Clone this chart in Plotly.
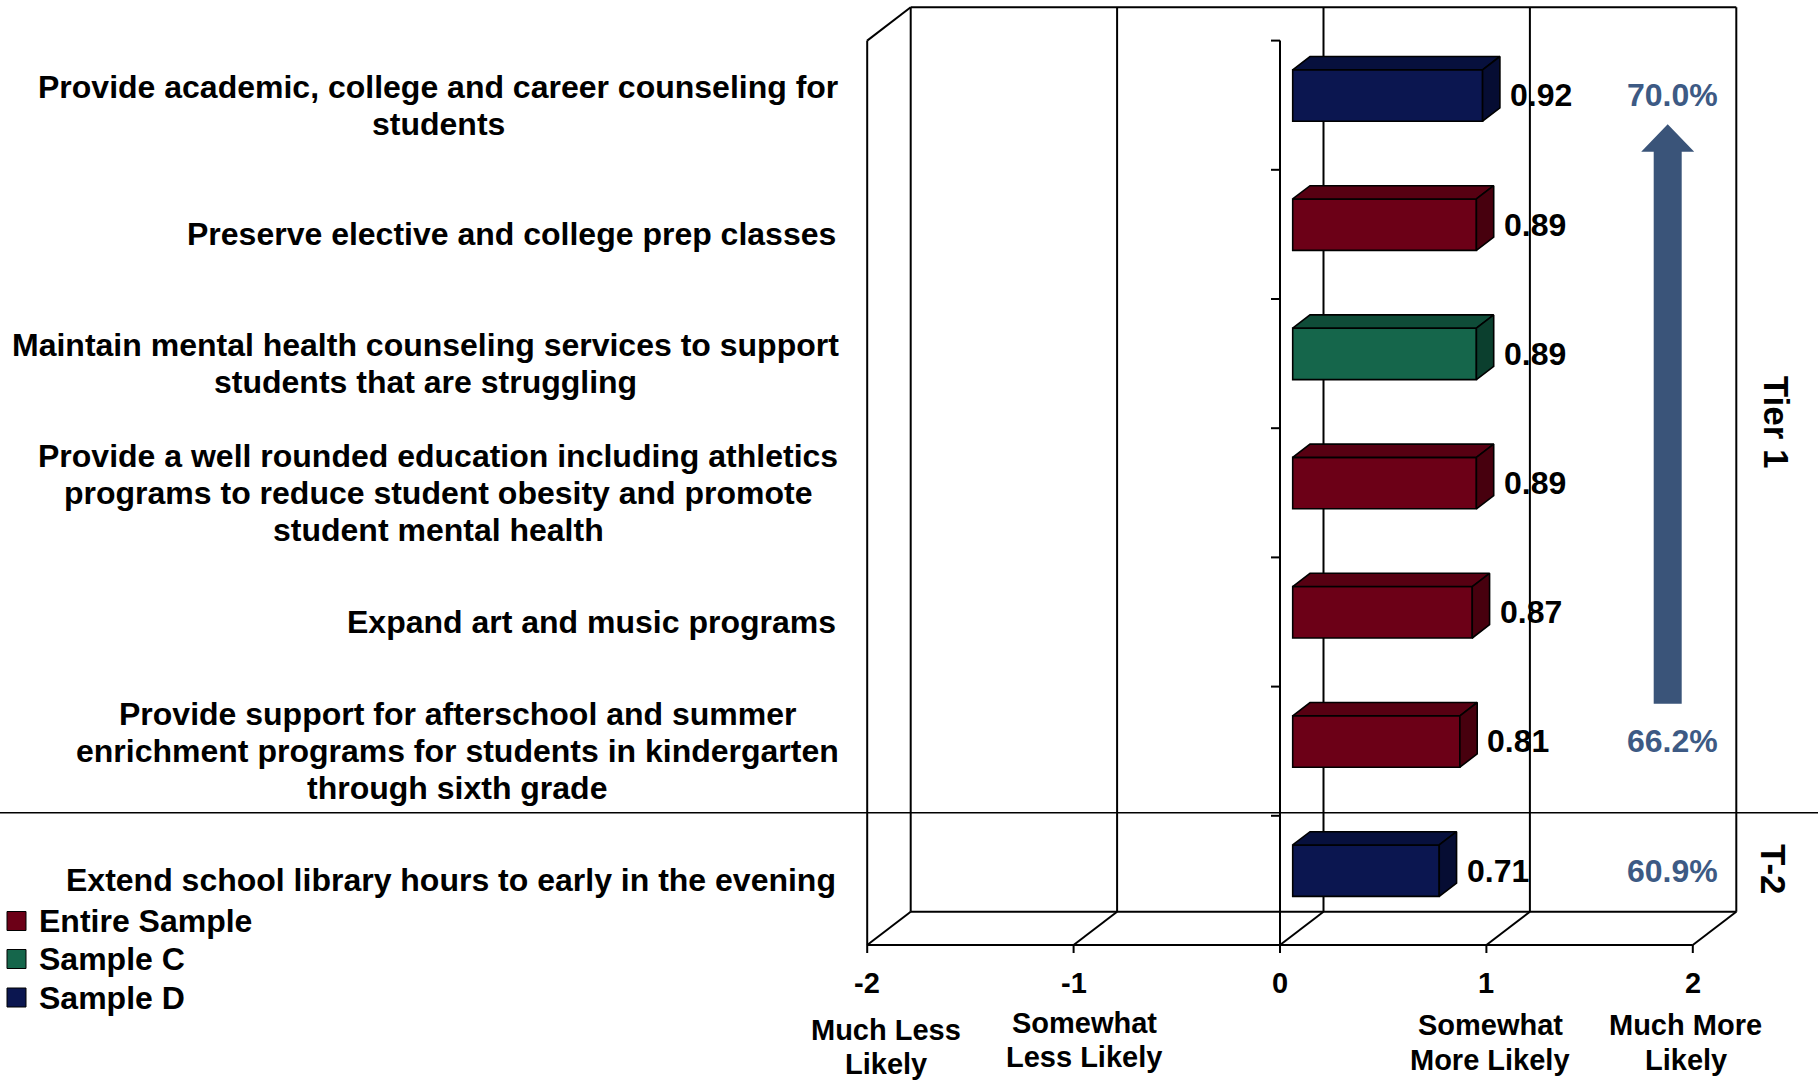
import plotly.graph_objects as go

# ---------------- data ----------------
categories = [
    ["Provide academic, college and career counseling for", "students"],
    ["Preserve elective and college prep classes"],
    ["Maintain mental health counseling services to support", "students that are struggling"],
    ["Provide a well rounded education including athletics",
     "programs to reduce student obesity and promote", "student mental health"],
    ["Expand art and music programs"],
    ["Provide support for afterschool and summer",
     "enrichment programs for students in kindergarten", "through sixth grade"],
    ["Extend school library hours to early in the evening"],
]
values = [0.92, 0.89, 0.89, 0.89, 0.87, 0.81, 0.71]
samples = ["Sample D", "Entire Sample", "Sample C", "Entire Sample",
           "Entire Sample", "Entire Sample", "Sample D"]
pct_rows = [0, 5, 6]
pct_labels = ["70.0%", "66.2%", "60.9%"]
x_ticks = [-2, -1, 0, 1, 2]
x_tick_text = ["-2", "-1", "0", "1", "2"]
scale_labels = {-2: ["Much Less", "Likely"], -1: ["Somewhat", "Less Likely"],
                1: ["Somewhat", "More Likely"], 2: ["Much More", "Likely"]}
legend_names = ["Entire Sample", "Sample C", "Sample D"]
tier_labels = ["Tier 1", "T-2"]

# ---------------- styles ----------------
COLORS = {
    "Entire Sample": {"front": "#6C0017", "top": "#570012", "side": "#47000E"},
    "Sample C": {"front": "#15664B", "top": "#0F4C38", "side": "#0B3F2E"},
    "Sample D": {"front": "#0B1650", "top": "#07103D", "side": "#060D33"},
}
ARROW_C = "#3A5479"
PCT_C = "#3D5A84"
FONT = "Liberation Sans, Arial, sans-serif"

W, H = 1818, 1080
X0PX, UX = 1280.0, 206.4     # pixel of x=0 (front), pixels per unit
FLOORPX, UY = 945.0, 129.2   # pixel of floor front, pixels per category
DX = 43.5 / UX               # depth offset (x units)
DY = 33.3 / UY               # depth offset (y units)
D0, D1 = 0.292, 0.69         # bar front/back depth fractions
BAR_H = 0.398

def px2x(px):
    return (px - X0PX) / UX

def px2y(py):
    return (FLOORPX - py) / UY

n = len(values)
yc = [n - 0.5 - i for i in range(n)]   # category centres, top row first

fig = go.Figure()

# front faces of bars
fig.add_trace(go.Bar(
    orientation="h",
    x=values,
    y=[c + D0 * DY for c in yc],
    base=[D0 * DX] * n,
    width=BAR_H,
    marker=dict(color=[COLORS[s]["front"] for s in samples],
                line=dict(color="black", width=1.6)),
    hoverinfo="skip",
))

# top and side faces
ddx = (D1 - D0) * DX
ddy = (D1 - D0) * DY
for v, c, s in zip(values, yc, samples):
    xl = D0 * DX
    xr = v + D0 * DX
    yt = c + D0 * DY + BAR_H / 2
    yb = c + D0 * DY - BAR_H / 2
    fig.add_trace(go.Scatter(
        x=[xl, xl + ddx, xr + ddx, xr, xl], y=[yt, yt + ddy, yt + ddy, yt, yt],
        fill="toself", fillcolor=COLORS[s]["top"], mode="lines",
        line=dict(color="black", width=1.6), hoverinfo="skip"))
    fig.add_trace(go.Scatter(
        x=[xr, xr + ddx, xr + ddx, xr, xr], y=[yt, yt + ddy, yb + ddy, yb, yt],
        fill="toself", fillcolor=COLORS[s]["side"], mode="lines",
        line=dict(color="black", width=1.6), hoverinfo="skip"))

shapes = []
LW = 2
def line(x0, y0, x1, y1, layer="below", xref="x", w=LW):
    shapes.append(dict(type="line", xref=xref, yref="y", x0=x0, y0=y0, x1=x1, y1=y1,
                       line=dict(color="black", width=w), layer=layer))

xmin, xmax = x_ticks[0], x_ticks[-1]
# back wall
for t in x_ticks:
    line(t + DX, DY, t + DX, n + DY)
line(xmin + DX, n + DY, xmax + DX, n + DY)
# left wall
line(xmin, 0, xmin, n)
line(xmin, n, xmin + DX, n + DY)
# floor
line(xmin, 0, xmax, 0)
line(xmin + DX, DY, xmax + DX, DY)
for t in x_ticks:
    line(t, 0, t + DX, DY)
    line(t, 0, t, px2y(FLOORPX + 8))
# value axis at 0 (front)
line(0, 0, 0, n)
for k in range(n + 1):
    line(0, k, -9 / UX, k)
# tier divider
shapes.append(dict(type="line", xref="paper", yref="y", x0=0, x1=1,
                   y0=px2y(812.7), y1=px2y(812.7),
                   line=dict(color="black", width=1.6), layer="below"))

# arrow
cx = px2x(1667.7)
hs, hh = 14 / UX, 26.5 / UX
yb_a, yhb, ytip = px2y(703.8), px2y(151.7), px2y(124.3)
pts = [(cx - hs, yb_a), (cx - hs, yhb), (cx - hh, yhb), (cx, ytip),
       (cx + hh, yhb), (cx + hs, yhb), (cx + hs, yb_a)]
path = "M " + " L ".join(f"{x},{y}" for x, y in pts) + " Z"
shapes.append(dict(type="path", xref="x", yref="y", path=path,
                   fillcolor=ARROW_C, line=dict(color=ARROW_C, width=0), layer="above"))

# legend swatches
leg_y = [921.0, 959.0, 997.5]
for name, py in zip(legend_names, leg_y):
    shapes.append(dict(type="rect", xref="x", yref="y",
                       x0=px2x(7), x1=px2x(26), y0=px2y(py - 9.5), y1=px2y(py + 9.5),
                       fillcolor=COLORS[name]["front"], line=dict(color="black", width=1)))

ann = []
def text(x, y, s, size=32, xanchor="center", color="black", angle=0):
    ann.append(dict(x=x, y=y, xref="x", yref="y", text=s, showarrow=False,
                    xanchor=xanchor, yanchor="middle", textangle=angle,
                    font=dict(family=FONT, size=size, color=color, weight="bold")))

# category labels
LABEL_RIGHT = 838.0
label_centre_px = [438.3, None, 425.5, 438.3, None, 457.4, None]
LINE_GAP = 37.1 / UY
for lines, c, cpx in zip(categories, yc, label_centre_px):
    k = len(lines)
    for j, s in enumerate(lines):
        y = c + ((k - 1) / 2 - j) * LINE_GAP
        if cpx is None:
            text(px2x(LABEL_RIGHT), y, s, xanchor="right")
        else:
            text(px2x(cpx), y, s)

# value labels
for v, c in zip(values, yc):
    text(v + D1 * DX + 8 / UX, c + D0 * DY, f"{v:.2f}", xanchor="left")

# percentages
for r, s in zip(pct_rows, pct_labels):
    text(px2x(1672), yc[r] + D0 * DY, s, color=PCT_C)

# x tick labels
for t, s in zip(x_ticks, x_tick_text):
    text(t, px2y(983), s, size=29)
scale_pos = {-2: (885.8, 1029.5), -1: (1084.0, 1022.6), 1: (1490.0, 1025.0), 2: (1685.8, 1025.0)}
for t, lines in scale_labels.items():
    px, py = scale_pos[t]
    for j, s in enumerate(lines):
        text(px2x(px), px2y(py + j * 34.7), s, size=29)

# tier labels
text(px2x(1776), 4.05, tier_labels[0], size=35, angle=90)
text(px2x(1774), px2y(869), tier_labels[1], size=35, angle=90)

# legend text
for name, py in zip(legend_names, leg_y):
    text(px2x(37), px2y(py), name, xanchor="left")

fig.update_layout(
    width=W, height=H,
    margin=dict(l=0, r=0, t=0, b=0),
    paper_bgcolor="white", plot_bgcolor="white",
    showlegend=False, hovermode=False,
    xaxis=dict(visible=False, range=[px2x(0), px2x(W)], fixedrange=True),
    yaxis=dict(visible=False, range=[px2y(H), px2y(0)], fixedrange=True),
    shapes=shapes, annotations=ann,
    barmode="overlay",
)
fig.write_html("out.html", config={"displayModeBar": False},
               post_script="document.body.style.margin='0';document.body.style.overflow='hidden';")
